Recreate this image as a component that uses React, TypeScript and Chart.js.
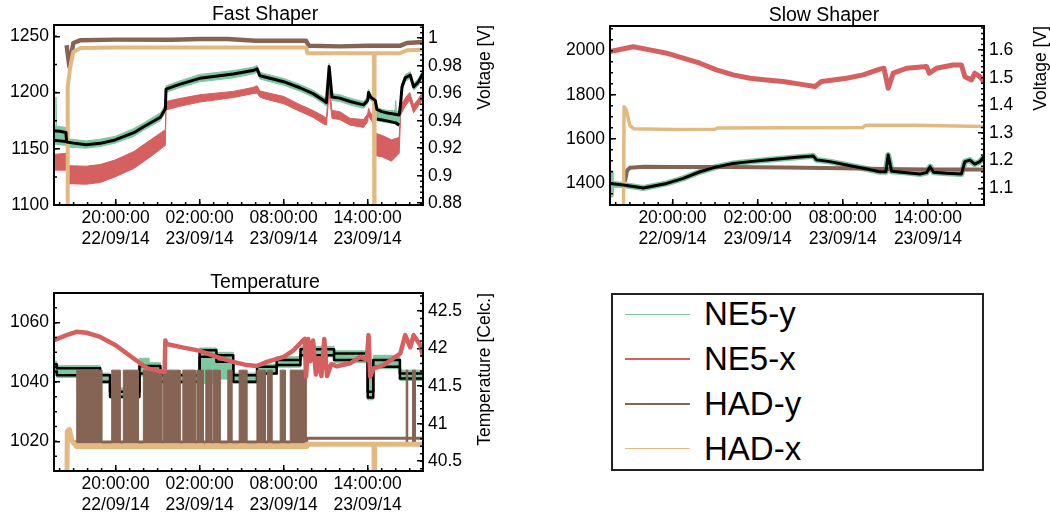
import React, { useEffect, useRef } from "react";
import { Chart, registerables } from "chart.js";

Chart.register(...registerables);

// ---------------- data ----------------
const seriesNames = ["NE5-y", "NE5-x", "HAD-y", "HAD-x"];
const seriesColors = ["#7cc6a0", "#d65f5f", "#866454", "#e3b982"];
const meanColor = "#000000";

// time axis: hours since 22/09/14 00:00:00
const xRange = [15.6, 41.95];
const xMajorTicks = [20, 26, 32, 38];
const xMinorStep = 1;

// ---- Fast Shaper ----
const fastLeftRange = [1100, 1260];
const fastLeftTicks = [1100, 1150, 1200, 1250];
const fastRightRange = [0.8787, 1.0096];
const fastRightTicks = [0.88, 0.9, 0.92, 0.94, 0.96, 0.98, 1];

const fastMeanT = [15.6, 16.0, 16.45, 16.5, 17.0, 17.9, 18.9, 19.96, 21.3, 22.0, 23.2, 23.55, 23.6, 24.5, 26.0, 28.4, 29.8, 30.1, 30.3, 30.6, 32.0, 33.2, 34.1, 34.85, 35.05, 35.25, 35.45, 36.0, 36.75, 37.7, 38.0, 38.06, 38.2, 38.54, 38.66, 39.0, 39.5, 40.09, 40.25, 40.35, 40.45, 40.68, 41.04, 41.28, 41.6, 41.95];
const fastMeanV = [1166, 1165.5, 1164.5, 1156, 1155, 1153.5, 1154.8, 1157.8, 1164.3, 1169.6, 1178, 1185.5, 1203, 1207, 1212.6, 1216.4, 1219.5, 1221, 1215, 1214, 1209.6, 1204, 1199, 1193, 1191, 1223, 1196, 1195, 1192, 1189, 1193, 1200, 1196, 1193, 1185, 1183, 1181.5, 1180.5, 1180, 1190, 1205, 1213, 1215.5, 1205, 1209, 1217];
const fastMean2T = [15.6, 16.0, 16.45, 16.5, 38.66, 39.3, 40.0, 40.25];
const fastMean2V = [1157.5, 1157, 1156.5, null, 1176.5, 1175, 1173, 1171];

const fastNE5yT = [15.6, 15.72, 15.74, 15.78, 16.45, 16.5, 17.9, 18.9, 19.96, 21.3, 22.0, 23.2, 23.55, 23.6, 24.5, 26.0, 28.4, 29.8, 30.1, 30.3, 30.6, 32.0, 33.2, 34.1, 34.85, 35.05, 35.25, 35.45, 36.0, 36.75, 37.7, 38.0, 38.06, 38.2, 38.54, 38.66, 39.0, 39.5, 39.95, 40.0, 40.05, 40.25, 40.35, 40.45, 40.68, 41.04, 41.28, 41.6, 41.95];
const fastNE5yLo = [1154, 1154, 1154, 1154, 1153, 1151.5, 1150.5, 1152, 1155, 1161, 1166.5, 1175, 1182.5, 1200, 1204, 1209.5, 1213, 1216.5, 1218, 1212, 1211, 1206.5, 1201, 1196, 1190, 1188, 1219, 1193, 1192, 1189, 1186, 1190, 1197, 1193, 1190, 1175, 1174, 1173, 1172.5, 1172.5, 1172, 1170, 1187, 1202, 1210, 1212.5, 1202, 1206, 1214];
const fastNE5yHi = [1170, 1170, 1196, 1170, 1169, 1159, 1157, 1158.5, 1161, 1168, 1173, 1182, 1189, 1206, 1210, 1216, 1219.5, 1222.5, 1224, 1218, 1217, 1212.5, 1207, 1202, 1196, 1194, 1226, 1199, 1198, 1195, 1192, 1196, 1203, 1199, 1196, 1187, 1185, 1184, 1184, 1193, 1184, 1182, 1193, 1208, 1216, 1218.5, 1208, 1212, 1220];

const fastNE5xT = [15.6, 16.5, 16.53, 17.9, 18.9, 19.96, 21.3, 22.5, 23.55, 23.6, 24.5, 26.0, 28.4, 29.8, 30.1, 30.3, 30.6, 32.0, 33.2, 34.1, 34.85, 35.05, 35.25, 35.45, 36.0, 36.75, 37.7, 38.0, 38.06, 38.2, 38.45, 38.5, 39.0, 39.7, 40.25, 40.35, 40.68, 41.0, 41.28, 41.6, 41.95];
const fastNE5xHi = [1145, 1146, 1135, 1134.5, 1136, 1140, 1147.5, 1158, 1167, 1192, 1194.5, 1198, 1201, 1204.5, 1206, 1201.5, 1200.5, 1196.5, 1189, 1184, 1179, 1177, 1208, 1184, 1183, 1177, 1176, 1181, 1186, 1182, 1178, 1164, 1162, 1158, 1160, 1188, 1195, 1200, 1189, 1194, 1201];
const fastNE5xLo = [1131, 1131, 1119, 1118.5, 1120, 1125, 1132.5, 1143, 1153, 1184.5, 1187.5, 1191.5, 1195.5, 1199, 1199.5, 1196, 1194.5, 1190, 1183, 1178, 1172, 1171, 1200, 1177, 1176, 1171, 1169, 1174, 1180, 1176, 1172, 1144, 1143, 1139, 1146, 1180, 1188, 1193, 1182, 1188, 1194];

const fastHADyT = [16.5, 16.7, 16.98, 17.5, 20, 24, 26, 28, 30, 33.6, 33.8, 36, 38, 40.3, 40.8, 41.95];
const fastHADyV = [1242, 1223, 1244, 1246.5, 1247, 1247, 1247.5, 1247.5, 1246, 1246, 1241.5, 1241, 1241.5, 1241.5, 1244, 1245];

const fastHADxT = [16.57, 16.58, 16.75, 16.98, 17.5, 20, 26, 33.6, 33.7, 36, 38.45, 38.47, 38.49, 40.3, 40.8, 41.95];
const fastHADxV = [1090, 1205, 1222, 1236, 1239.5, 1240, 1240, 1240, 1235, 1235, 1235, 1090, 1235, 1235, 1237.5, 1238];

// ---- Slow Shaper ----
const slowLeftRange = [1299, 2112];
const slowLeftTicks = [1400, 1600, 1800, 2000];
const slowRightRange = [1.0395, 1.687];
const slowRightTicks = [1.1, 1.2, 1.3, 1.4, 1.5, 1.6];

const slowNE5xT = [15.6, 17.24, 18.4, 19.6, 20.76, 21.94, 23.1, 24.28, 25.46, 26.63, 27.8, 28.98, 30.04, 30.5, 32.27, 33.44, 34.6, 34.9, 35.2, 35.55, 36.5, 37.9, 38.1, 38.6, 39.77, 40.36, 40.6, 41.07, 41.3, 41.66, 41.94];
const slowNE5xV = [1996, 2018, 2003.5, 1988.5, 1966, 1943, 1912.6, 1890, 1875, 1867, 1859.5, 1848, 1837, 1859.5, 1875, 1890, 1916, 1920, 1829, 1897.6, 1920, 1928, 1897.6, 1920, 1935, 1935, 1882, 1867, 1897.6, 1882, 1859.5];

const slowMeanT = [15.6, 16.54, 17.95, 19.6, 20.76, 21.94, 23.1, 24.28, 25.46, 26.63, 27.8, 28.98, 29.92, 30.15, 31.1, 32.27, 33.44, 34.6, 35.04, 35.2, 35.44, 36.5, 37.44, 37.9, 38.15, 38.4, 39.3, 40.36, 40.6, 40.95, 41.3, 41.66, 41.94];
const slowMeanV = [1397, 1390, 1376, 1397, 1420, 1450, 1472, 1488, 1496, 1503, 1510, 1517, 1522, 1504, 1496, 1481, 1466, 1450, 1450, 1526, 1452, 1446, 1440, 1446, 1473, 1448, 1443, 1440, 1496, 1503, 1485, 1496, 1518];

const slowNE5yT = [15.6, 15.64, 15.66, 15.7, 16.54, 17.95, 19.6, 20.76, 21.94, 23.1, 24.28, 25.46, 26.63, 27.8, 28.98, 29.92, 30.15, 31.1, 32.27, 33.44, 34.6, 35.04, 35.2, 35.44, 36.5, 37.44, 37.9, 38.15, 38.4, 39.3, 40.36, 40.6, 40.95, 41.3, 41.66, 41.94];
const slowNE5yV = [1397, 1445, 1345, 1396, 1390, 1376, 1397, 1420, 1450, 1472, 1488, 1496, 1503, 1510, 1517, 1522, 1504, 1496, 1481, 1466, 1450, 1450, 1526, 1452, 1446, 1440, 1446, 1473, 1448, 1443, 1440, 1496, 1503, 1485, 1496, 1518];

const slowHADxT = [16.55, 16.59, 16.75, 17.0, 17.3, 20, 23.0, 23.2, 28, 33.4, 33.6, 37, 40, 41.95];
const slowHADxV = [1290, 1745, 1730, 1660, 1645, 1642, 1643, 1649, 1650, 1651, 1661, 1661, 1658, 1655];

const slowHADyT = [16.65, 16.8, 17.0, 18, 20, 24, 28, 32, 35, 38, 41.95];
const slowHADyV = [1405, 1455, 1468, 1473, 1472, 1472, 1469, 1466, 1462, 1460, 1460];

// ---- Temperature ----
const tempLeftRange = [1010, 1070];
const tempLeftTicks = [1020, 1040, 1060];
const tempRightRange = [40.37, 42.74];
const tempRightTicks = [40.5, 41, 41.5, 42, 42.5];

const tempNE5xT = [15.6, 16.5, 17.2, 17.93, 18.9, 20, 20.8, 21.75, 22.3, 23.4, 23.5, 23.55, 23.65, 24.85, 26.03, 27.2, 28.4, 29.37, 30.08, 30.8, 32, 32.7, 33.4, 33.5, 33.6, 33.75, 33.9, 34.1, 34.3, 34.5, 34.7, 34.9, 35.1, 35.4, 35.8, 36.75, 37.47, 37.94, 38.06, 38.18, 38.42, 39.13, 40.33, 40.68, 41.04, 41.28, 41.76, 41.95];
const tempNE5xV = [1054.1, 1055.8, 1056.9, 1056.6, 1055.2, 1052.4, 1049.6, 1046.3, 1044.6, 1043.4, 1043.4, 1054, 1052.8, 1051.6, 1050.5, 1048.5, 1046.8, 1045.7, 1045.4, 1046.8, 1048.5, 1050.7, 1054.1, 1054.5, 1041.8, 1054.5, 1047, 1054, 1042.5, 1048, 1042, 1054.5, 1042, 1046, 1045.3, 1046.3, 1048.5, 1047.4, 1055.8, 1041.8, 1044.6, 1045.7, 1049.6, 1055.8, 1051.7, 1055.8, 1052.4, 1048.5];

const tempNE5yT = [15.6, 15.8, 18.9, 19.6, 21.7, 22.4, 23.2, 26.0, 27.2, 28.4, 30.1, 31.5, 33.2, 35.6, 38.0, 38.4, 40.3, 41.3, 41.95];
const tempMeanHi = [1045.5, 1046, 1044.6, 1042.3, 1036.7, 1045.4, 1045.4, 1042.3, 1050.7, 1049, 1042.3, 1045.1, 1047.4, 1051, 1049.6, 1036.7, 1047.4, 1042.9, 1042.9];
const tempMeanLo = [1043.5, 1043.5, 1042.3, 1040.1, 1035, 1042.9, 1042.9, 1040.1, 1048.5, 1046.8, 1040.1, 1042.9, 1045.7, 1049, 1047.4, 1034.8, 1045.1, 1041.2, 1041.2];
const tempNE5yHi = [1056, 1047, 1045.5, 1043, 1038, 1048, 1046.5, 1043, 1051.5, 1050, 1043, 1046, 1048.5, 1052, 1050.5, 1043, 1049, 1044, 1044];
const tempNE5yLo = [1040.5, 1043, 1041.5, 1039.5, 1034.5, 1042, 1042, 1039.5, 1039.5, 1041, 1039.5, 1042.5, 1045, 1048.5, 1046.5, 1034, 1044.5, 1040.5, 1040.5];

const tempHADyBursts = [[17.22, 19.01], [19.72, 20.32], [20.55, 21.62], [21.98, 23.3], [23.41, 24.6], [24.8, 25.68], [25.8, 26.27], [26.44, 26.87], [26.98, 27.46], [28.01, 28.3], [28.82, 29.37], [30.09, 30.68], [30.84, 31.16], [31.75, 32.11], [32.47, 33.6], [40.75, 40.85], [41.2, 41.4]];
const tempHADyBurstLow = 1019.5;
const tempHADyBurstHigh = 1044;
const tempHADyT = [16.5, 16.53, 16.7, 17.0, 33.6, 33.65, 41.95];
const tempHADyV = [1005, 1022, 1021, 1019.8, 1019.8, 1021, 1021];

const tempHADxT = [16.52, 16.55, 16.7, 16.9, 17.2, 33.6, 33.65, 38.45, 38.47, 38.49, 41.95];
const tempHADxV = [1005, 1023.5, 1024, 1020, 1018.3, 1018.3, 1019, 1019, 1005, 1019, 1019];

// ---------------- helpers ----------------
const FONT = '"Liberation Sans", Arial, Helvetica, sans-serif';
const [GREEN, RED, BROWN, TAN] = seriesColors;

type Pt = { x: number; y: number | null };
const pts = (t: number[], v: (number | null)[]): Pt[] => t.map((x, i) => ({ x, y: v[i] }));

const burstPoints = (bursts: number[][], low: number, high: number): Pt[] => {
  const out: Pt[] = [];
  for (const [a, b] of bursts) {
    out.push({ x: a, y: low }, { x: a, y: high }, { x: b, y: high }, { x: b, y: low });
  }
  return out;
};

const stepValues = (min: number, max: number, step: number): number[] => {
  const out: number[] = [];
  const start = Math.ceil(min / step - 1e-9);
  for (let i = start; i * step <= max + 1e-9; i++) out.push(+(i * step).toFixed(6));
  return out;
};

const pad2 = (n: number) => String(n).padStart(2, "0");
const timeLabel = (h: number) => {
  const day = 22 + Math.floor(h / 24);
  const hr = ((h % 24) + 24) % 24;
  return [`${pad2(hr)}:00:00`, `${day}/09/14`];
};
const numLabel = (v: number) => String(+Number(v).toFixed(3));

const line = (data: Pt[], color: string, width: number, extra: any = {}) => ({
  data,
  borderColor: color,
  backgroundColor: color,
  borderWidth: width,
  pointRadius: 0,
  fill: false,
  tension: 0,
  borderJoinStyle: "round",
  spanGaps: false,
  ...extra,
});

const rootPlugin = {
  id: "rootPad",
  afterDraw(chart: any, _args: any, opts: any) {
    const { ctx, chartArea: a, scales } = chart;
    ctx.save();
    ctx.strokeStyle = "#000";
    ctx.lineWidth = 1.5;
    const minor = (scale: any, step: number, side: string) => {
      const vals = stepValues(scale.min, scale.max, step);
      ctx.beginPath();
      for (const v of vals) {
        const p = scale.getPixelForValue(v);
        if (side === "left") {
          ctx.moveTo(a.left, p);
          ctx.lineTo(a.left + 3, p);
        } else if (side === "right") {
          ctx.moveTo(a.right, p);
          ctx.lineTo(a.right - 3, p);
        } else {
          ctx.moveTo(p, a.bottom);
          ctx.lineTo(p, a.bottom - 3);
        }
      }
      ctx.stroke();
    };
    minor(scales.y, opts.leftMinor, "left");
    minor(scales.yR, opts.rightMinor, "right");
    minor(scales.x, xMinorStep, "bottom");
    ctx.lineWidth = 2;
    ctx.strokeRect(a.left, a.top, a.right - a.left, a.bottom - a.top);
    ctx.fillStyle = "#000";
    ctx.font = `19.5px ${FONT}`;
    ctx.textAlign = "center";
    ctx.textBaseline = "alphabetic";
    ctx.fillText(opts.title, a.left + 0.572 * (a.right - a.left), a.top - 5);
    ctx.translate(a.right + opts.rightTitleOffset, a.top);
    ctx.rotate(-Math.PI / 2);
    ctx.font = `17.5px ${FONT}`;
    ctx.textAlign = "right";
    ctx.textBaseline = "middle";
    ctx.fillText(opts.rightTitle, 0, 0);
    ctx.restore();
  },
};

type Spec = {
  left: number;
  top: number;
  width: number;
  height: number;
  area: { left: number; right: number; top: number; bottom: number };
  title: string;
  rightTitle: string;
  rightTitleOffset: number;
  leftRange: number[];
  leftTicks: number[];
  leftMinor: number;
  rightRange: number[];
  rightTicks: number[];
  rightMinor: number;
  datasets: any[];
};

const tickFont = { family: FONT, size: 17.5 };
const gridOpts = {
  display: true,
  drawOnChartArea: false,
  drawTicks: true,
  tickLength: -6,
  color: "#000",
  tickColor: "#000",
  lineWidth: 1.5,
  tickWidth: 1.5,
};

function makeConfig(s: Spec): any {
  return {
    type: "line",
    data: { datasets: s.datasets },
    options: {
      animation: false,
      responsive: false,
      events: [],
      layout: { autoPadding: false, padding: { top: s.area.top, left: 0, right: 0, bottom: 0 } },
      plugins: {
        legend: { display: false },
        tooltip: { enabled: false },
        rootPad: {
          title: s.title,
          rightTitle: s.rightTitle,
          rightTitleOffset: s.rightTitleOffset,
          leftMinor: s.leftMinor,
          rightMinor: s.rightMinor,
        },
      },
      scales: {
        x: {
          type: "linear",
          position: "bottom",
          min: xRange[0],
          max: xRange[1],
          afterFit: (sc: any) => {
            sc.height = s.height - s.area.bottom;
          },
          afterBuildTicks: (sc: any) => {
            sc.ticks = xMajorTicks.map((v) => ({ value: v }));
          },
          grid: gridOpts,
          border: { display: false },
          ticks: {
            color: "#000",
            font: tickFont,
            padding: 8.5,
            maxRotation: 0,
            minRotation: 0,
            autoSkip: false,
            callback: (v: number) => timeLabel(v),
          },
        },
        y: {
          type: "linear",
          position: "left",
          min: s.leftRange[0],
          max: s.leftRange[1],
          afterFit: (sc: any) => {
            sc.width = s.area.left;
          },
          afterBuildTicks: (sc: any) => {
            sc.ticks = s.leftTicks.map((v) => ({ value: v }));
          },
          grid: gridOpts,
          border: { display: false },
          ticks: { color: "#000", font: tickFont, padding: 11, autoSkip: false, callback: (v: number) => numLabel(v) },
        },
        yR: {
          type: "linear",
          position: "right",
          min: s.rightRange[0],
          max: s.rightRange[1],
          afterFit: (sc: any) => {
            sc.width = s.width - s.area.right;
          },
          afterBuildTicks: (sc: any) => {
            sc.ticks = s.rightTicks.map((v) => ({ value: v }));
          },
          grid: gridOpts,
          border: { display: false },
          ticks: { color: "#000", font: tickFont, padding: 11, autoSkip: false, callback: (v: number) => numLabel(v) },
        },
      },
    },
    plugins: [rootPlugin],
  };
}

const fastSpec: Spec = {
  left: 0,
  top: 0,
  width: 530,
  height: 260,
  area: { left: 54, right: 423, top: 25, bottom: 205 },
  title: "Fast Shaper",
  rightTitle: "Voltage [V]",
  rightTitleOffset: 62,
  leftRange: fastLeftRange,
  leftTicks: fastLeftTicks,
  leftMinor: 25,
  rightRange: fastRightRange,
  rightTicks: fastRightTicks,
  rightMinor: 0.004,
  datasets: [
    line(pts(fastMeanT, fastMeanV), meanColor, 3),
    line(pts(fastMean2T, fastMean2V), meanColor, 3),
    line(pts(fastHADxT, fastHADxV), TAN, 4, { label: "HAD-x" }),
    line(pts(fastHADyT, fastHADyV), BROWN, 4.5, { label: "HAD-y" }),
    line(pts(fastNE5yT, fastNE5yHi), GREEN, 1, { label: "NE5-y", fill: "+1" }),
    line(pts(fastNE5yT, fastNE5yLo), GREEN, 1),
    line(pts(fastNE5xT, fastNE5xHi), RED, 1, { label: "NE5-x", fill: "+1" }),
    line(pts(fastNE5xT, fastNE5xLo), RED, 1),
  ],
};

const slowSpec: Spec = {
  left: 530,
  top: 0,
  width: 520,
  height: 260,
  area: { left: 80, right: 454, top: 26, bottom: 205 },
  title: "Slow Shaper",
  rightTitle: "Voltage [V]",
  rightTitleOffset: 57,
  leftRange: slowLeftRange,
  leftTicks: slowLeftTicks,
  leftMinor: 50,
  rightRange: slowRightRange,
  rightTicks: slowRightTicks,
  rightMinor: 0.02,
  datasets: [
    line(pts(slowMeanT, slowMeanV), meanColor, 3),
    line(pts(slowHADxT, slowHADxV), TAN, 3.5, { label: "HAD-x" }),
    line(pts(slowHADyT, slowHADyV), BROWN, 4, { label: "HAD-y" }),
    line(pts(slowNE5yT, slowNE5yV), GREEN, 6, { label: "NE5-y" }),
    line(pts(slowNE5xT, slowNE5xV), RED, 5, { label: "NE5-x" }),
  ],
};

const tempSpec: Spec = {
  left: 0,
  top: 260,
  width: 530,
  height: 260,
  area: { left: 54, right: 423, top: 33, bottom: 211 },
  title: "Temperature",
  rightTitle: "Temperature [Celc.]",
  rightTitleOffset: 62,
  leftRange: tempLeftRange,
  leftTicks: tempLeftTicks,
  leftMinor: 5,
  rightRange: tempRightRange,
  rightTicks: tempRightTicks,
  rightMinor: 0.1,
  datasets: [
    line(pts(tempNE5xT, tempNE5xV), RED, 4.5, { label: "NE5-x" }),
    line(pts(tempHADxT, tempHADxV), TAN, 5, { label: "HAD-x" }),
    line(burstPoints(tempHADyBursts, tempHADyBurstLow, tempHADyBurstHigh), BROWN, 1, {
      fill: { value: tempHADyBurstLow },
      borderJoinStyle: "miter",
    }),
    line(pts(tempHADyT, tempHADyV), BROWN, 3, { label: "HAD-y" }),
    line(pts(tempNE5yT, tempMeanHi), meanColor, 2.5, { stepped: "after" }),
    line(pts(tempNE5yT, tempMeanLo), meanColor, 2.5, { stepped: "after" }),
    line(pts(tempNE5yT, tempNE5yHi), GREEN, 1, { label: "NE5-y", stepped: "after", fill: "+1" }),
    line(pts(tempNE5yT, tempNE5yLo), GREEN, 1, { stepped: "after" }),
  ],
};

function Panel({ spec }: { spec: Spec }) {
  const ref = useRef<HTMLCanvasElement>(null);
  useEffect(() => {
    const chart = new Chart(ref.current as HTMLCanvasElement, makeConfig(spec));
    return () => chart.destroy();
  }, [spec]);
  return (
    <canvas
      ref={ref}
      width={spec.width}
      height={spec.height}
      style={{ position: "absolute", left: spec.left, top: spec.top, width: spec.width, height: spec.height }}
    />
  );
}

function Legend() {
  return (
    <div
      style={{
        position: "absolute",
        left: 611,
        top: 293,
        width: 373,
        height: 178,
        border: "2px solid #222",
        boxSizing: "border-box",
        background: "#fff",
      }}
    >
      {seriesNames.map((name, i) => (
        <div
          key={name}
          style={{ position: "absolute", left: 0, top: 19.3 + i * 44.8 - 20, width: "100%", height: 40 }}
        >
          <div
            style={{
              position: "absolute",
              left: 12,
              top: 19.25,
              width: 65,
              height: 1.5,
              background: seriesColors[i],
            }}
          />
          <div
            style={{
              position: "absolute",
              left: 91,
              top: 0,
              height: 40,
              lineHeight: "40px",
              fontFamily: FONT,
              fontSize: 33,
              color: "#000",
              whiteSpace: "nowrap",
            }}
          >
            {name}
          </div>
        </div>
      ))}
    </div>
  );
}

export default function App() {
  return (
    <div style={{ position: "absolute", left: 0, top: 0, width: 1050, height: 520, background: "#fff", overflow: "hidden" }}>
      <Panel spec={fastSpec} />
      <Panel spec={slowSpec} />
      <Panel spec={tempSpec} />
      <Legend />
    </div>
  );
}
